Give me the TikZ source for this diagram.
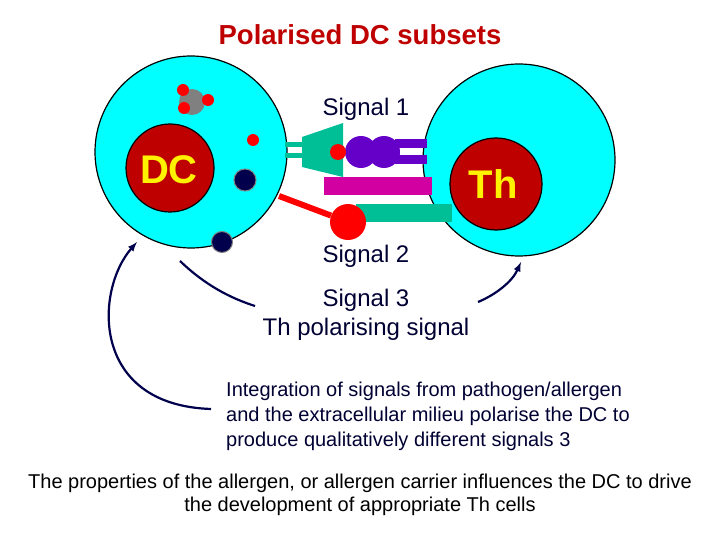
\documentclass[tikz,border=0pt]{standalone}
\usepackage{fontspec}
\setmainfont{Liberation Sans}
\definecolor{cellc}{RGB}{0,255,255}
\definecolor{tcr}{RGB}{0,190,150}
\definecolor{pur}{RGB}{100,0,200}
\definecolor{mag}{RGB}{210,0,160}
\begin{document}
\begin{tikzpicture}[x=1pt,y=-1pt,
  cell/.style={fill=cellc, draw=black, line width=1.2pt},
  nuc/.style={fill=red!75!black, draw=black, line width=1.2pt},
  lbl/.style={text=black!80!blue, font=\fontsize{24}{28}\selectfont},
  navyline/.style={draw=blue!30!black, line width=2.2pt},
  reddot/.style={fill=red, draw=none},
  navydot/.style={fill=blue!30!black, draw=gray, line width=1pt}]
\useasboundingbox (0,0) rectangle (720,540);
\node[font=\bfseries\fontsize{27.5}{30}\selectfont, text=red!75!black] (title) at (360,35) {Polarised DC subsets};
% cells
\node[cell, circle, minimum size=192pt] (dccell) at (191,152) {};
\node[cell, circle, minimum size=192pt] (thcell) at (519,160) {};
\node[nuc, circle, minimum size=88pt] (dcnuc) at (170,168) {};
\node[font=\bfseries\fontsize{40}{44}\selectfont, text=yellow] (dct) at (169,170) {DC};
\node[nuc, circle, minimum size=92pt] (thnuc) at (496,184) {};
\node[font=\bfseries\fontsize{40}{44}\selectfont, text=yellow] (tht) at (493,184) {Th};
% granules
\node[circle, fill=gray, minimum size=26pt, inner sep=0] (gr) at (192,102) {};
\node[reddot, circle, minimum size=12pt, inner sep=0] (r1) at (183,90) {};
\node[reddot, circle, minimum size=12pt, inner sep=0] (r2) at (208,100) {};
\node[reddot, circle, minimum size=12pt, inner sep=0] (r3) at (184,108) {};
\node[reddot, circle, minimum size=12pt, inner sep=0] (r4) at (253,140) {};
\node[navydot, circle, minimum size=22pt, inner sep=0] (n1) at (245,180) {};
\node[navydot, circle, minimum size=21pt, inner sep=0] (n2) at (222,242) {};
% receptors
\fill[tcr] (285,142) rectangle (303,147);
\fill[tcr] (285,153) rectangle (303,158);
\fill[tcr] (302,137) -- (343,123) -- (343,177) -- (302,167) -- cycle;
\fill[pur] (395,139) rectangle (427,148);
\fill[pur] (395,155) rectangle (427,164);
\node[circle, fill=pur, minimum size=32pt, inner sep=0] (p1) at (361,152) {};
\node[circle, fill=pur, minimum size=32pt, inner sep=0] (p2) at (384,152) {};
\node[reddot, circle, minimum size=16pt, inner sep=0] (mhc) at (338,152) {};
\fill[mag] (324,177) rectangle (432,195);
\fill[tcr] (356,204) rectangle (452,222);
\node[reddot, circle, minimum size=36pt, inner sep=0] (b7) at (348,222) {};
\draw[red, line width=6pt] (279,196) -- (b7);
% labels
\node[lbl] (s1) at (366,109) {Signal 1};
\node[lbl] (s2) at (366,256) {Signal 2};
\node[lbl] (s3) at (366,300) {Signal 3};
\node[lbl] (s3b) at (366,329) {Th polarising signal};
% arrows
\draw[navyline] (180,261) .. controls (205,285) and (230,298) .. (255,306);
\draw[navyline, -latex] (478,302) .. controls (495,295) and (512,282) .. (521,262);
\node[anchor=north west, align=left, text=black!80!blue, font=\fontsize{20}{25}\selectfont, inner sep=0] (integ) at (226,382) {Integration of signals from pathogen/allergen\\and the extracellular milieu polarise the DC to\\produce qualitatively different signals 3};
\draw[navyline, -latex] (211,409) .. controls (90,405) and (95,290) .. (137,242);
\node[align=center, font=\fontsize{20}{23.5}\selectfont, text=black] (props) at (360,495) {The properties of the allergen, or allergen carrier influences the DC to drive\\the development of appropriate Th cells};
\end{tikzpicture}
\end{document}
